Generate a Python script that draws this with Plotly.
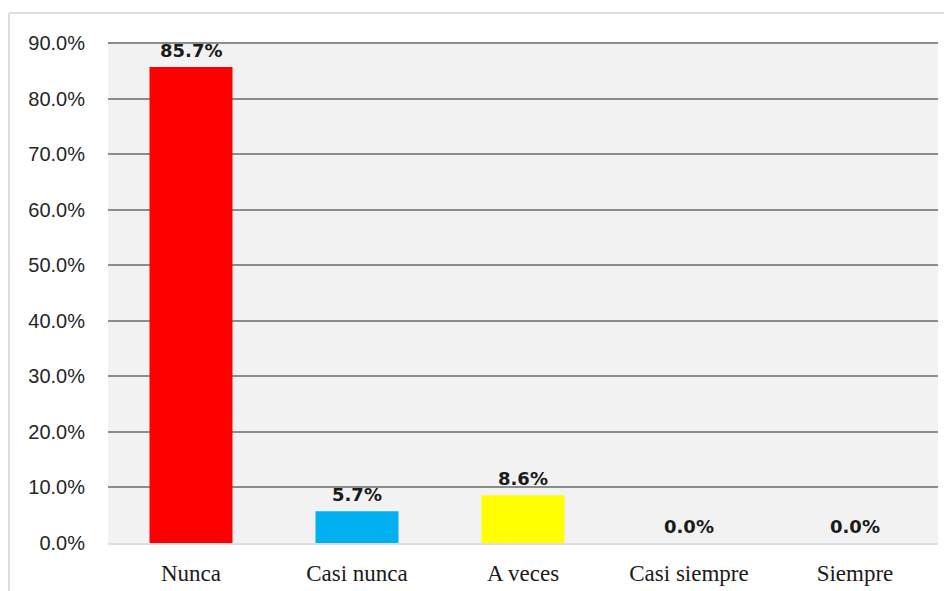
import plotly.graph_objects as go

categories = ["Nunca", "Casi nunca", "A veces", "Casi siempre", "Siempre"]
values = [85.7, 5.7, 8.6, 0.0, 0.0]
colors = ["#ff0000", "#00b0f0", "#ffff00", "#a5a5a5", "#4472c4"]
tick_vals = [0, 10, 20, 30, 40, 50, 60, 70, 80, 90]
tick_text = ["0.0%", "10.0%", "20.0%", "30.0%", "40.0%", "50.0%", "60.0%", "70.0%", "80.0%", "90.0%"]
labels = [f"{v:.1f}%" for v in values]

# page body has an 8px default margin; the figure starts at (8, 8) on the page
OFF = 8
W, H = 952 - OFF, 591 - OFF
ml, mr, mt, mb = 108 - OFF, 952 - 938, 42 - OFF, 591 - 543
pw, ph = W - ml - mr, H - mt - mb
ymax = 90.2

fig = go.Figure()
fig.add_trace(go.Bar(
    x=categories, y=values, marker=dict(color=colors, line=dict(width=0)),
    width=0.5, hoverinfo="skip", showlegend=False,
))
for c, v, t in zip(categories, values, labels):
    fig.add_annotation(x=c, y=v, text=t, showarrow=False, yanchor="bottom", yshift=4,
                       font=dict(family="DejaVu Sans", size=18, color="#1a1a1a", weight="bold"))

# outer chart border: top and left edges (pixel positions converted to paper coords)
bx0, by0 = 9 - OFF, 13 - OFF
px = lambda x: (x - ml) / pw
py = lambda y: (H - mb - y) / ph
border = dict(color="#d9dee7", width=2)
fig.add_shape(type="line", xref="paper", yref="paper", x0=px(bx0), x1=px(W + 10),
              y0=py(by0), y1=py(by0), line=border, layer="below")
fig.add_shape(type="line", xref="paper", yref="paper", x0=px(bx0), x1=px(bx0),
              y0=py(by0), y1=py(H + 10), line=border, layer="below")

fig.update_layout(
    width=W, height=H,
    margin=dict(l=ml, r=mr, t=mt, b=mb, autoexpand=False),
    paper_bgcolor="white", plot_bgcolor="#f2f2f2",
    xaxis=dict(showgrid=False, showline=True, linecolor="#d9dee7", linewidth=2,
               tickfont=dict(family="Liberation Serif", size=23, color="#1a1a1a"),
               ticks="", ticklabelstandoff=8, fixedrange=True, automargin=False),
    yaxis=dict(range=[0, ymax], tickvals=tick_vals, ticktext=tick_text,
               showgrid=True, gridcolor="#8c8c8c", gridwidth=2, zeroline=False,
               tickfont=dict(family="Liberation Sans", size=20, color="#262626"),
               ticks="", ticklabelstandoff=22, fixedrange=True, automargin=False),
    bargap=0.5,
)
fig.write_html("out.html")
